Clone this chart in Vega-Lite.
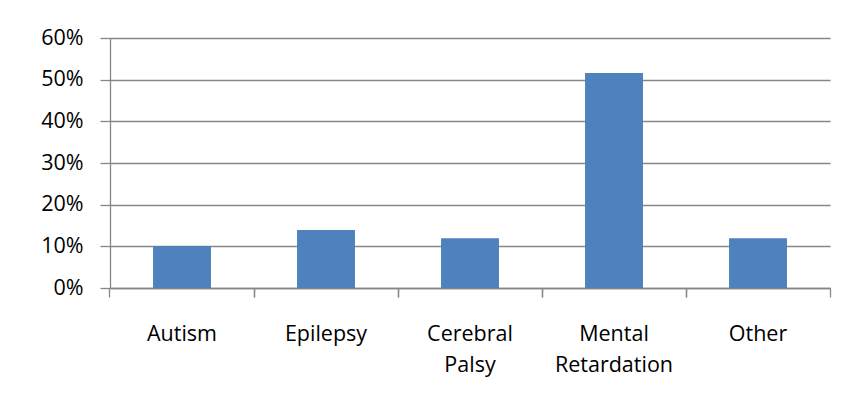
{
  "$schema": "https://vega.github.io/schema/vega-lite/v6.json",
  "width": 720,
  "height": 250,
  "autosize": {"type": "none"},
  "padding": {"left": 110, "top": 38, "right": 34, "bottom": 113},
  "background": "white",
  "data": {
    "values": [
      {"condition": "Autism", "share": 0.101},
      {"condition": "Epilepsy", "share": 0.139},
      {"condition": "Cerebral Palsy", "share": 0.119},
      {"condition": "Mental Retardation", "share": 0.516},
      {"condition": "Other", "share": 0.119}
    ]
  },
  "encoding": {
    "y": {
      "field": "share",
      "type": "quantitative",
      "scale": {"domain": [0, 0.6]},
      "axis": {
        "title": null,
        "format": ".0%",
        "values": [0, 0.1, 0.2, 0.3, 0.4, 0.5, 0.6],
        "labelFont": "Open Sans",
        "labelFontSize": 21.5,
        "labelColor": "#000000",
        "labelPadding": 17,
        "tickSize": 10,
        "tickColor": "#868686",
        "domainColor": "#868686",
        "gridColor": "#868686",
        "tickWidth": 1.3,
        "domainWidth": 1.3,
        "gridWidth": 1.3
      }
    }
  },
  "layer": [
    {
      "mark": {"type": "bar", "color": "#4F81BD"},
      "encoding": {
        "x": {
          "field": "condition",
          "type": "nominal",
          "sort": null,
          "scale": {"paddingInner": 0.6, "paddingOuter": 0.3},
          "axis": {
            "orient": "bottom",
            "title": null,
            "labelAngle": 0,
            "bandPosition": 1.75,
            "labelExpr": "split(datum.label, ' ')",
            "labelFont": "Open Sans",
            "labelFontSize": 21.5,
            "labelColor": "#000000",
            "labelLineHeight": 31,
            "labelPadding": 26,
            "tickSize": 9,
            "tickColor": "#868686",
            "domainColor": "#868686",
            "tickWidth": 1.3,
            "domainWidth": 1.3
          }
        }
      }
    },
    {
      "mark": {"type": "bar", "color": "#4F81BD"},
      "encoding": {
        "x": {
          "field": "condition",
          "type": "nominal",
          "sort": null,
          "axis": {
            "orient": "bottom",
            "title": null,
            "labels": false,
            "domain": false,
            "bandPosition": -0.75,
            "tickSize": 9,
            "tickColor": "#868686",
            "tickWidth": 1.3
          }
        }
      }
    }
  ],
  "resolve": {"axis": {"x": "independent"}},
  "config": {"view": {"stroke": null}}
}
